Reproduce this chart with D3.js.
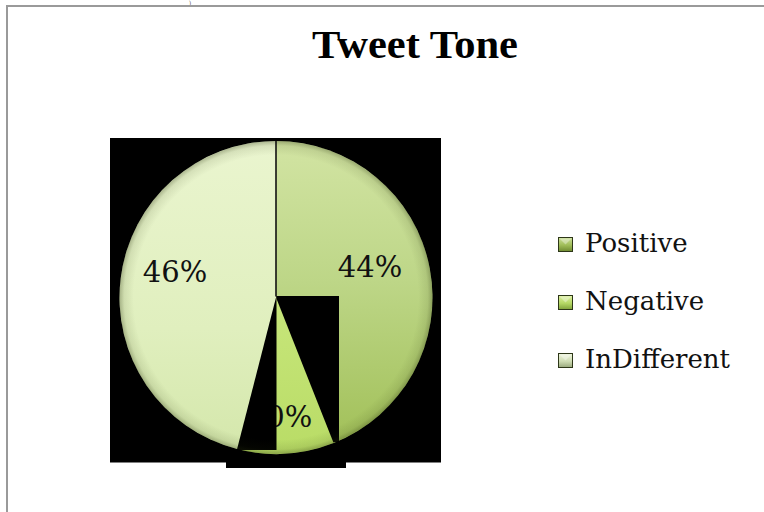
<!DOCTYPE html>
<html><head><meta charset="utf-8">
<script src="https://cdn.jsdelivr.net/npm/d3@7"></script>
<style>html,body{margin:0;padding:0;background:#fff;}svg{display:block;}</style>
</head><body>
<svg id="chart" width="764" height="512"></svg>
<script>
const title = "Tweet Tone";
const categories = ["Positive", "Negative", "InDifferent"];
const values = [44, 10, 46];
const labels = ["44%", "10%", "46%"];

const svg = d3.select("#chart");
const cx = 276, cy = 297.5, r = 156.5;
const defs = svg.append("defs");

const sliceStops = [
  [["0%", "#d2e4a3"], ["45%", "#bdd687"], ["100%", "#a0bf56"]],
  [["0%", "#d6f090"], ["100%", "#b9dc66"]],
  [["0%", "#eaf5cf"], ["60%", "#e0efbe"], ["100%", "#d4e7ab"]]
];
sliceStops.forEach((st, i) => {
  const gr = defs.append("linearGradient").attr("id", "sg" + i)
    .attr("gradientUnits", "userSpaceOnUse")
    .attr("x1", 0).attr("y1", -r).attr("x2", 0).attr("y2", r);
  st.forEach(s => gr.append("stop").attr("offset", s[0]).attr("stop-color", s[1]));
});
const rim = defs.append("radialGradient").attr("id", "rim")
  .attr("gradientUnits", "userSpaceOnUse")
  .attr("cx", 0).attr("cy", 0).attr("r", r);
[["0%", 0], ["91%", 0], ["97%", 0.10], ["100%", 0.32]]
  .forEach(s => rim.append("stop").attr("offset", s[0]).attr("stop-color", "#28320a").attr("stop-opacity", s[1]));

const swatchStops = [
  ["#cde09a", "#9fbc58", "#6f8a30"],
  ["#dcf0a0", "#b5d865", "#7fa23a"],
  ["#eef5dc", "#cfdcb4", "#98a87c"]
];
swatchStops.forEach((c, i) => {
  const gr = defs.append("linearGradient").attr("id", "lg" + i)
    .attr("x1", "0").attr("y1", "0").attr("x2", "0").attr("y2", "1");
  gr.append("stop").attr("offset", "0%").attr("stop-color", c[0]);
  gr.append("stop").attr("offset", "55%").attr("stop-color", c[1]);
  gr.append("stop").attr("offset", "100%").attr("stop-color", c[2]);
});

// stray glyph from the page above
svg.append("text").attr("x", 189).attr("y", 5).attr("font-family", "Liberation Serif")
  .attr("font-size", 6).attr("fill", "#555").text(")");

// frame
svg.append("rect").attr("x", 7).attr("y", 6).attr("width", 820).attr("height", 600)
  .attr("fill", "#fff").attr("stroke", "#9a9a9a").attr("stroke-width", 2);

// title
svg.append("text").attr("x", 415).attr("y", 58).attr("text-anchor", "middle")
  .attr("font-family", "Liberation Serif").attr("font-weight", "bold").attr("font-size", 39)
  .attr("textLength", 206).attr("lengthAdjust", "spacingAndGlyphs").attr("fill", "#000").text(title);

const pie = d3.pie().sort(null).value(d => d)(values);
const arc = d3.arc().innerRadius(0).outerRadius(r);
const g = svg.append("g").attr("transform", `translate(${cx},${cy})`);

// export artefacts (black blocks)
g.append("rect").attr("x", -166).attr("y", -159.5).attr("width", 331).attr("height", 324.5).attr("fill", "#000");
g.append("rect").attr("x", -50).attr("y", 158).attr("width", 120).attr("height", 12.5).attr("fill", "#000");

function drawSlice(i) {
  g.append("path").attr("d", arc(pie[i])).attr("fill", `url(#sg${i})`);
}
function drawLabel(i, x, y) {
  g.append("text").attr("x", x - cx).attr("y", y - cy).attr("text-anchor", "middle")
    .attr("font-family", "DejaVu Serif").attr("font-size", 29).attr("fill", "#111").text(labels[i]);
}

drawSlice(0);
g.append("rect").attr("x", 0.5).attr("y", -1.5).attr("width", 62.5).attr("height", 146).attr("fill", "#000");
drawSlice(1);
drawLabel(1, 280, 427);
g.append("rect").attr("x", -40).attr("y", -1.5).attr("width", 40.5).attr("height", 154).attr("fill", "#000");
drawSlice(2);

// rim shading
g.append("circle").attr("r", r).attr("fill", "url(#rim)");
// separator at 12 o'clock
g.append("line").attr("x1", 0).attr("y1", -r).attr("x2", 0).attr("y2", -1)
  .attr("stroke", "#111").attr("stroke-width", 1.6);

drawLabel(0, 370, 277);
drawLabel(2, 175, 282);

// legend
const lg = svg.append("g");
categories.forEach((c, i) => {
  const y0 = 252 + i * 58;
  lg.append("rect").attr("x", 558.5).attr("y", y0 - 14.5).attr("width", 14).attr("height", 14)
    .attr("fill", `url(#lg${i})`).attr("stroke", "#2d3618").attr("stroke-width", 1);
  lg.append("path").attr("d", `M${559.5},${y0 - 13.5}L${565.5},${y0 - 7.5}L${571.5},${y0 - 13.5}Z`)
    .attr("fill", "#ffffff").attr("fill-opacity", 0.35);
  lg.append("text").attr("x", 585).attr("y", y0)
    .attr("font-family", "DejaVu Serif").attr("font-size", 26).attr("fill", "#111").text(c);
});
</script>
</body></html>
